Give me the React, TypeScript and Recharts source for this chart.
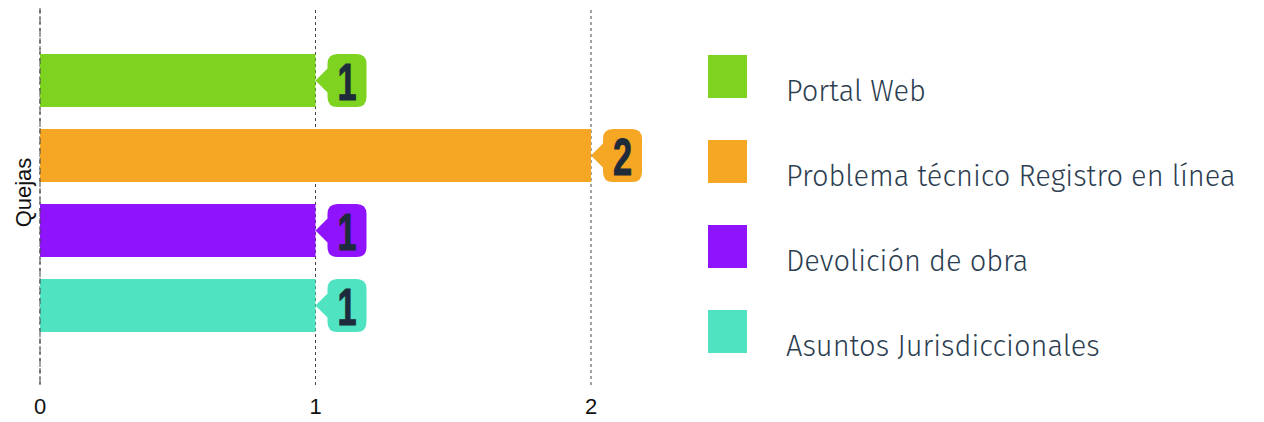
import { BarChart, Bar, XAxis, YAxis, CartesianGrid, Legend, LabelList } from 'recharts'

const categories = ['Quejas']
const seriesNames = [
  'Portal Web',
  'Problema técnico Registro en línea',
  'Devolición de obra',
  'Asuntos Jurisdiccionales',
]
const seriesValues = [1, 2, 1, 1]
const xTicks = [0, 1, 2]

const colors = ['#7ed321', '#f5a623', '#9013fe', '#50e3c2']

const data = categories.map((name) => {
  const row: Record<string, string | number> = { name }
  seriesNames.forEach((s, i) => {
    row[`s${i}`] = seriesValues[i]
  })
  return row
})

// burbuja con flecha a la izquierda, mismo color que la barra
function Bubble(props: any) {
  const { x, y, width, height, value, fill } = props
  const tipX = x + width
  const cy = y + height / 2
  const left = tipX + 12
  const right = left + 39
  const r = 10
  const d = [
    `M ${tipX} ${cy}`,
    `L ${left} ${cy - 12}`,
    `L ${left} ${y + r}`,
    `Q ${left} ${y} ${left + r} ${y}`,
    `L ${right - r} ${y}`,
    `Q ${right} ${y} ${right} ${y + r}`,
    `L ${right} ${y + height - r}`,
    `Q ${right} ${y + height} ${right - r} ${y + height}`,
    `L ${left + r} ${y + height}`,
    `Q ${left} ${y + height} ${left} ${y + height - r}`,
    `L ${left} ${cy + 12}`,
    'Z',
  ].join(' ')
  const tx = (left + right) / 2
  return (
    <g>
      <path d={d} fill={fill} />
      <text
        x={0}
        y={0}
        transform={`translate(${tx} ${cy + 19}) scale(0.66 1)`}
        textAnchor="middle"
        fill="#1d2b3a"
        stroke="#1d2b3a"
        strokeWidth={1}
        fontFamily="'Liberation Sans', Arial, sans-serif"
        fontWeight="bold"
        fontSize={52}
      >
        {value}
      </text>
    </g>
  )
}

function LegendContent() {
  return (
    <div style={{ paddingTop: 47 }}>
      {seriesNames.map((name, i) => (
        <div key={name} style={{ position: 'relative', height: 85 }}>
          <div
            style={{
              position: 'absolute',
              left: 0,
              top: 0,
              width: 39,
              height: 43,
              background: colors[i],
            }}
          />
          <span
            style={{
              position: 'absolute',
              left: 78,
              top: 18,
              fontFamily: "'Fira Sans', 'Open Sans', sans-serif",
              fontWeight: 300,
              fontSize: 29,
              color: '#2c3e50',
              whiteSpace: 'nowrap',
              lineHeight: '38px',
            }}
          >
            {name}
          </span>
        </div>
      ))}
    </div>
  )
}

export default function App() {
  return (
    <div style={{ width: 1248, height: 414 }}>
      <BarChart
        width={1248}
        height={414}
        data={data}
        layout="vertical"
        margin={{ top: -10, right: 0, bottom: 0, left: 0 }}
        barSize={53}
        barGap={22}
      >
        <CartesianGrid horizontal={false} strokeDasharray="3 3" stroke="#444" />
        <XAxis
          type="number"
          domain={[0, 2]}
          ticks={xTicks}
          height={35}
          axisLine={false}
          tickLine={false}
          tick={{ fill: '#111', fontSize: 22, fontFamily: "'Liberation Sans', Arial, sans-serif", dy: 3 }}
        />
        <YAxis
          type="category"
          dataKey="name"
          width={32}
          tick={false}
          tickLine={false}
          axisLine={{ stroke: '#444', strokeDasharray: '6 4' }}
          label={{
            value: 'Quejas',
            angle: -90,
            position: 'center',
            dx: -1,
            fill: '#111',
            fontSize: 22,
            fontFamily: "'Liberation Sans', Arial, sans-serif",
          }}
        />
        <Legend
          layout="vertical"
          align="right"
          verticalAlign="top"
          width={665}
          wrapperStyle={{ left: 700, top: 0 }}
          content={<LegendContent />}
        />
        {seriesNames.map((name, i) => (
          <Bar key={name} dataKey={`s${i}`} name={name} fill={colors[i]} isAnimationActive={false}>
            <LabelList dataKey={`s${i}`} content={(p: any) => <Bubble {...p} fill={colors[i]} />} />
          </Bar>
        ))}
      </BarChart>
    </div>
  )
}
